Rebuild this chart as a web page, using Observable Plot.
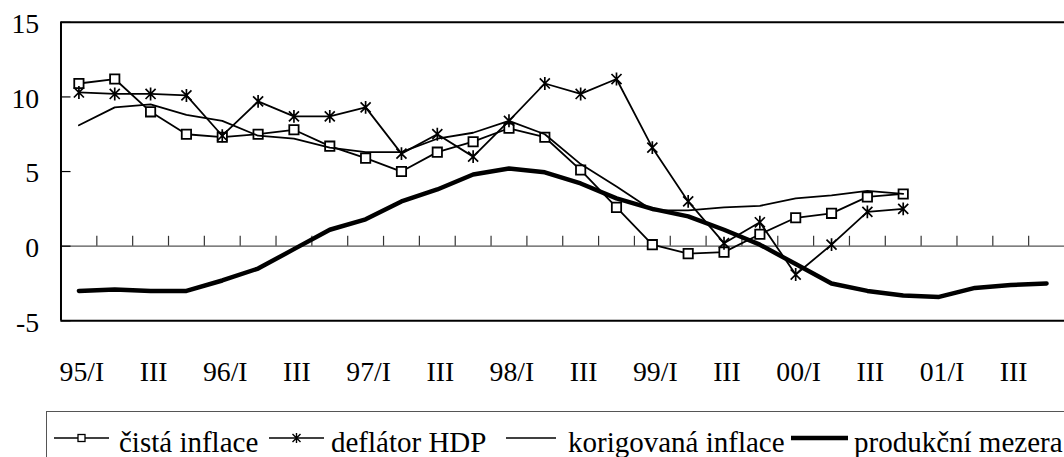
<!DOCTYPE html>
<html>
<head>
<meta charset="utf-8">
<script src="https://cdn.jsdelivr.net/npm/d3@7"></script>
<script src="https://cdn.jsdelivr.net/npm/@observablehq/plot@0.6"></script>
<style>
  html, body { margin: 0; padding: 0; background: #fff; overflow: hidden; width: 1064px; height: 457px; }
  #wrap { position: relative; width: 1064px; height: 457px; overflow: hidden; font-family: "Liberation Serif", "Times New Roman", serif; }
  #chart { position: absolute; left: 0; top: 0; }
  #legend { position: absolute; left: 46px; top: 411px; width: 1100px; height: 80px; border: 1.5px solid #555; box-sizing: border-box; }
  .lab { position: absolute; font-family: "Liberation Serif", "Times New Roman", serif; font-size: 29px; color: #000; white-space: nowrap; line-height: 1; }
</style>
</head>
<body>
<div id="wrap">
  <div id="chart"></div>
  <div id="legend"></div>
</div>
<script>
const quarters = ["95/I","95/II","95/III","95/IV","96/I","96/II","96/III","96/IV",
  "97/I","97/II","97/III","97/IV","98/I","98/II","98/III","98/IV",
  "99/I","99/II","99/III","99/IV","00/I","00/II","00/III","00/IV",
  "01/I","01/II","01/III","01/IV"];
const tickLabels = ["95/I","III","96/I","III","97/I","III","98/I","III","99/I","III","00/I","III","01/I","III"];
const yTicks = [-5, 0, 5, 10, 15];

const cistaInflace = [10.9, 11.2, 9.0, 7.5, 7.3, 7.5, 7.8, 6.7, 5.9, 5.0, 6.3, 7.0, 7.9, 7.3, 5.1, 2.6,
  0.1, -0.5, -0.4, 0.8, 1.9, 2.2, 3.3, 3.5, null, null, null, null];
const deflatorHDP = [10.3, 10.2, 10.2, 10.1, 7.4, 9.7, 8.7, 8.7, 9.3, 6.2, 7.5, 6.0, 8.4, 10.9, 10.2, 11.2,
  6.6, 3.0, 0.2, 1.6, -1.9, 0.1, 2.3, 2.5, null, null, null, null];
const korigovanaInflace = [8.1, 9.3, 9.5, 8.8, 8.4, 7.4, 7.2, 6.6, 6.3, 6.3, 7.2, 7.6, 8.4, 7.5, 5.5, 4.0,
  2.4, 2.4, 2.6, 2.7, 3.2, 3.4, 3.7, 3.5, null, null, null, null];
const produkcniMezera = [-3.0, -2.9, -3.0, -3.0, -2.3, -1.5, -0.2, 1.1, 1.8, 3.0, 3.8, 4.8, 5.2, 4.95, 4.2, 3.2,
  2.5, 2.0, 1.1, 0.1, -1.2, -2.5, -3.0, -3.3, -3.4, -2.8, -2.6, -2.5];

const seriesNames = ["čistá inflace", "deflátor HDP", "korigovaná inflace", "produkční mezera"];

const rows = quarters.map((q, i) => ({
  i, q, pos: i + 0.5,
  cista: cistaInflace[i], deflator: deflatorHDP[i],
  korig: korigovanaInflace[i], mezera: produkcniMezera[i]
}));
const labelRows = quarters.map((q, i) => ({pos: i + 0.5, i})).filter(d => d.i % 2 === 0)
  .map((d, k) => ({pos: d.pos, text: tickLabels[k]}));
const boundaries = d3.range(1, quarters.length);

const squareSym = { draw(ctx, size) { const r = Math.sqrt(size / Math.PI); ctx.rect(-r, -r, 2 * r, 2 * r); } };
const starSym = { draw(ctx, size) {
  const r = Math.sqrt(size / Math.PI); const d = r * 0.78;
  ctx.moveTo(0, -r); ctx.lineTo(0, r);
  ctx.moveTo(-d, -d); ctx.lineTo(d, d);
  ctx.moveTo(-d, d); ctx.lineTo(d, -d);
} };

const font = "'Liberation Serif', 'Times New Roman', serif";
const chart = Plot.plot({
  width: 1073, height: 400,
  marginLeft: 61, marginRight: 0, marginTop: 22, marginBottom: 77,
  x: {type: "linear", domain: [0, quarters.length], axis: null},
  y: {domain: [-5, 15], axis: null},
  style: {fontFamily: font, background: "transparent"},
  marks: [
    Plot.ruleY([0], {stroke: "#555", strokeWidth: 1.3}),
    Plot.ruleX(boundaries, {y1: 0, y2: 0.66, stroke: "#333", strokeWidth: 1.2}),
    Plot.ruleY(yTicks, {x1: 0, x2: 0.28, stroke: "#000", strokeWidth: 1.2}),
    Plot.ruleY([15, -5], {stroke: "#000", strokeWidth: 2}),
    Plot.ruleX([0], {stroke: "#000", strokeWidth: 2}),
    Plot.text(yTicks, {x: 0, y: d => d, text: d => String(d), textAnchor: "end", dx: -22, dy: 2, fontSize: 28, fontFamily: font, fill: "#000"}),
    Plot.text(labelRows, {x: "pos", y: () => -5, text: "text", dy: 52, dx: 3, fontSize: 28, fontFamily: font, fill: "#000"}),
    Plot.line(rows, {x: "pos", y: "cista", stroke: "#000", strokeWidth: 1.8}),
    Plot.dot(rows, {x: "pos", y: "cista", symbol: squareSym, r: 4.7, fill: "#fff", stroke: "#000", strokeWidth: 1.8}),
    Plot.line(rows, {x: "pos", y: "deflator", stroke: "#000", strokeWidth: 1.8}),
    Plot.dot(rows, {x: "pos", y: "deflator", symbol: starSym, r: 6.5, fill: "none", stroke: "#000", strokeWidth: 1.7}),
    Plot.line(rows, {x: "pos", y: "korig", stroke: "#000", strokeWidth: 1.8}),
    Plot.line(rows, {x: "pos", y: "mezera", stroke: "#000", strokeWidth: 4.5, strokeLinejoin: "round"})
  ]
});
document.getElementById("chart").appendChild(chart);

// Legend
const legend = document.getElementById("legend");
const leftOff = 46, topOff = 411;
const legendItems = [
  {name: seriesNames[0], sx: 53, sw: 55, tx: 118, marker: "square", w: 1.6},
  {name: seriesNames[1], sx: 268, sw: 55, tx: 330, marker: "star", w: 1.6},
  {name: seriesNames[2], sx: 505, sw: 50, tx: 567, marker: null, w: 1.6},
  {name: seriesNames[3], sx: 790, sw: 57, tx: 853, marker: null, w: 4.5}
];
const symY = 438 - topOff;
legendItems.forEach(it => {
  const svg = d3.create("svg").attr("width", it.sw).attr("height", 20)
    .style("position", "absolute").style("left", (it.sx - leftOff) + "px").style("top", (symY - 10 - 1.5) + "px");
  svg.append("line").attr("x1", 0).attr("x2", it.sw).attr("y1", 10).attr("y2", 10)
    .attr("stroke", "#000").attr("stroke-width", it.w);
  const cx = it.sw / 2;
  if (it.marker === "square") {
    svg.append("rect").attr("x", cx - 3.5).attr("y", 6.5).attr("width", 7).attr("height", 7)
      .attr("fill", "#fff").attr("stroke", "#000").attr("stroke-width", 1.3);
  } else if (it.marker === "star") {
    const r = 5, d = 4;
    svg.append("path").attr("d", `M${cx},${10 - r}V${10 + r}M${cx - d},${10 - d}L${cx + d},${10 + d}M${cx - d},${10 + d}L${cx + d},${10 - d}`)
      .attr("stroke", "#000").attr("stroke-width", 1.4).attr("fill", "none");
  }
  legend.appendChild(svg.node());
  const lab = document.createElement("div");
  lab.className = "lab";
  lab.textContent = it.name;
  lab.style.left = (it.tx - leftOff) + "px";
  lab.style.top = (452 - topOff - 25) + "px";
  legend.appendChild(lab);
});
</script>
</body>
</html>
